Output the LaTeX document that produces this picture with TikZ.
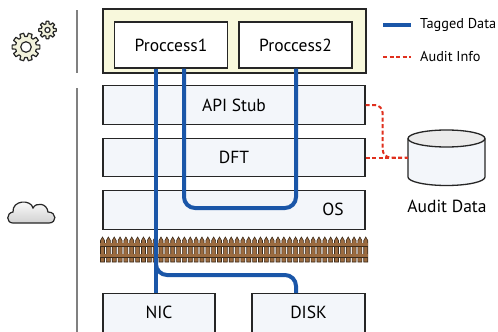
\documentclass[tikz,border=0pt]{standalone}
\usepackage{fontspec}
\setmainfont{PT Sans}
\usetikzlibrary{calc}
\definecolor{tagblue}{HTML}{1A56A8}
\definecolor{auditred}{HTML}{E0301E}
\definecolor{layerfill}{HTML}{F3F6FA}
\definecolor{userfill}{HTML}{F8F8DC}
\definecolor{wood}{HTML}{9B6B40}
\definecolor{wooddark}{HTML}{3B2A1A}
\definecolor{gearfill}{HTML}{F2F2DC}
\tikzset{
  box/.style={draw=black!85, line width=1.3pt, inner sep=0pt},
  layer/.style={box, fill=layerfill, minimum width=262pt, minimum height=38.5pt},
  proc/.style={box, fill=white, minimum width=113pt, minimum height=46pt},
  lbl/.style={font=\fontsize{17.5}{20}\selectfont},
  legtext/.style={font=\fontsize{14.3}{16}\selectfont, anchor=west, inner sep=0pt},
  tagged/.style={draw=tagblue, line width=4pt},
  audit/.style={draw=auditred, line width=2pt, dash pattern=on 4pt off 2.5pt},
  divider/.style={draw=black!50, line width=2.5pt},
  gear/.style={draw=black!85, line width=1.2pt, fill=gearfill, line join=round},
  picket/.style={fill=wood, draw=wooddark, line width=0.6pt},
}
\begin{document}
\begin{tikzpicture}[x=1pt, y=-1pt]
\useasboundingbox (0,0) rectangle (498,332);
\clip (0,0) rectangle (498,332);
\fill[white] (0,0) rectangle (498,332);

% side dividers
\draw[divider] (77,10) -- (77,73);
\draw[divider] (77,88) -- (77,332);

% gears (user space)
\begin{scope}[shift={(26,47)}]
  \draw[gear] (-12:10.5) \foreach \a in {0,36,...,324}{
      -- (\a-8:14) -- (\a+8:14) -- (\a+12:10.5) -- (\a+24:10.5)} -- cycle;
  \draw[gear, fill=white] (0,0) circle (5.3);
\end{scope}
\begin{scope}[shift={(47.5,30)}]
  \draw[gear] (-14:6.3) \foreach \a in {0,45,...,315}{
      -- (\a-9:8.8) -- (\a+9:8.8) -- (\a+15:6.3) -- (\a+30:6.3)} -- cycle;
  \draw[gear, fill=white] (0,0) circle (2.6);
\end{scope}

% cloud (system space)
\shade[top color=white, bottom color=black!18, draw=black!85, line width=1.2pt]
  (13,223) .. controls (6,223) and (6,213) .. (13,212)
  .. controls (12,200) and (31,199) .. (33,208)
  .. controls (36,202) and (47,203) .. (48,212)
  .. controls (57,212) and (57,223) .. (49,223) -- cycle;

% user space
\node[box, fill=userfill, minimum width=263pt, minimum height=64pt] (user) at (234.5,41) {};
\node[proc, lbl] (P1) at (171,45) {Proccess1};
\node[proc, lbl] (P2) at (295.5,45) {Proccess2};

% system layers
\node[layer, lbl] (API) at (234,105) {API Stub};
\node[layer, lbl] (DFT) at (234,157.5) {DFT};
\node[layer] (OS) at (234,210) {};
\node[lbl, anchor=center] (OSl) at (333,209) {OS};

% hardware
\node[box, fill=layerfill, minimum width=112pt, minimum height=50pt, anchor=north] (NIC) at (159,293) {};
\node[lbl] (NICl) at (159,312) {NIC};
\node[box, fill=layerfill, minimum width=113pt, minimum height=50pt, anchor=north] (DISK) at (308.5,293) {};
\node[lbl] (DISKl) at (308.5,312) {DISK};

% picket fence
\begin{scope}
  \fill[wood] (100,243) rectangle (368,246);
  \fill[wood] (100,254) rectangle (368,257);
  \foreach \i in {0,...,45}{
    \pgfmathsetmacro{\px}{102.5+\i*5.85}
    \draw[picket] (\px-2,262) -- (\px-2,240.5) -- (\px,237) -- (\px+2,240.5) -- (\px+2,262) -- cycle;
  }
  \draw[wooddark, line width=0.6pt] (100,243) -- (368,243) (100,246) -- (368,246)
                                      (100,254) -- (368,254) (100,257) -- (368,257);
  \fill[wood] (100,243.4) rectangle (368,245.6);
  \fill[wood] (100,254.4) rectangle (368,256.6);
\end{scope}

% audit store
\node[minimum width=77pt, minimum height=56pt, inner sep=0pt] (store) at (446.5,158) {};
\fill[layerfill] (408,138.5) -- (408,177) arc[start angle=180, end angle=360, x radius=38.5, y radius=-8.5]
  -- (485,138.5) -- cycle;
\draw[black!85, line width=1.3pt] (408,138.5) -- (408,177)
  arc[start angle=180, end angle=360, x radius=38.5, y radius=-8.5] -- (485,138.5);
\draw[black!85, line width=1.3pt, fill=black!8] (446.5,138.5) ellipse[x radius=38.5, y radius=8.5];
\node[lbl] (storel) at (447,206) {Audit Data};

% audit connectors
\draw[audit, rounded corners=8pt] (API.east) -- ++(17,0) |- (DFT.east -| store.west);
\draw[audit] (DFT.east) -- (DFT.east -| store.west);

% tagged data paths
\coordinate (split) at (156,258);
\coordinate (turn) at (296,275);
\draw[tagged] ([xshift=-15pt]P1.south) -- ([xshift=-3pt]NIC.north);
\draw[tagged, rounded corners=11pt] ([xshift=13pt]P1.south) |- ([yshift=2pt]OS.center) -| ([xshift=0.5pt]P2.south);
\draw[tagged, rounded corners=11pt] (split) |- (turn) -- ([xshift=-12.5pt]DISK.north);

% legend
\node[legtext] (legT) at (420,25) {Tagged Data};
\node[legtext] (legA) at (420,57) {Audit Info};
\draw[tagged] ([xshift=-37pt]legT.west) -- ([xshift=-9pt]legT.west);
\draw[audit] ([xshift=-37pt]legA.west) -- ([xshift=-9pt]legA.west);
\end{tikzpicture}
\end{document}
